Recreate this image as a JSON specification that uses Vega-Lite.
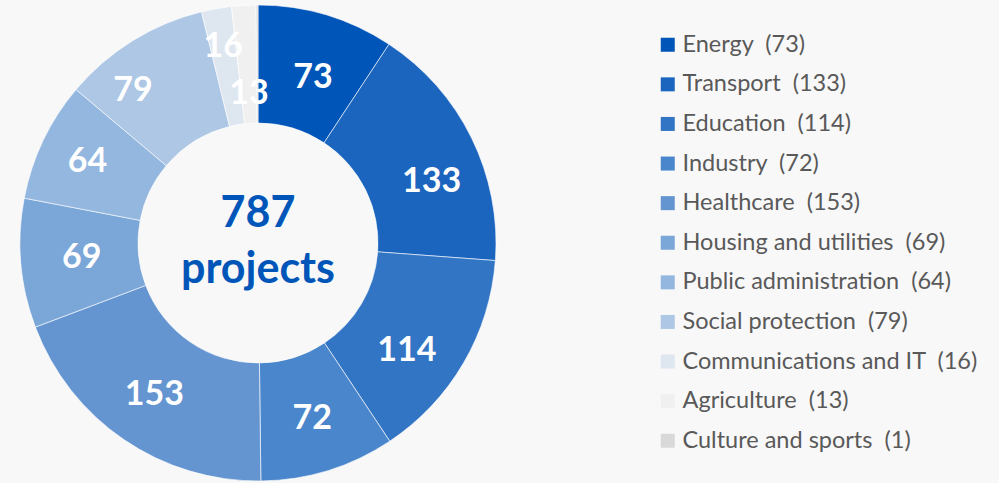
{
  "$schema": "https://vega.github.io/schema/vega-lite/v6.json",
  "width": 516,
  "height": 486,
  "autosize": {"type": "none"},
  "padding": {"left": 0, "top": 0, "right": 483, "bottom": 0},
  "background": "#f8f8f8",
  "config": {"view": {"stroke": null}, "font": "Lato"},
  "layer": [
    {
      "data": {
        "values": [
          {"sector": "Energy", "projects": 73, "rank": 1},
          {"sector": "Transport", "projects": 133, "rank": 2},
          {"sector": "Education", "projects": 114, "rank": 3},
          {"sector": "Industry", "projects": 72, "rank": 4},
          {"sector": "Healthcare", "projects": 153, "rank": 5},
          {"sector": "Housing and utilities", "projects": 69, "rank": 6},
          {"sector": "Public administration", "projects": 64, "rank": 7},
          {"sector": "Social protection", "projects": 79, "rank": 8},
          {"sector": "Communications and IT", "projects": 16, "rank": 9},
          {"sector": "Agriculture", "projects": 13, "rank": 10},
          {"sector": "Culture and sports", "projects": 1, "rank": 11}
        ]
      },
      "transform": [
        {"calculate": "datum.sector + '\u00a0 (' + datum.projects + ')'", "as": "legendLabel"}
      ],
      "layer": [
        {
          "mark": {"type": "arc", "innerRadius": 120, "outerRadius": 238, "stroke": "#ffffff", "strokeWidth": 0.6},
          "encoding": {
            "theta": {"field": "projects", "type": "quantitative", "stack": true},
            "order": {"field": "rank", "type": "quantitative"},
            "color": {
              "field": "legendLabel",
              "type": "nominal",
              "sort": null,
              "scale": {
                "domain": ["Energy\u00a0 (73)", "Transport\u00a0 (133)", "Education\u00a0 (114)", "Industry\u00a0 (72)", "Healthcare\u00a0 (153)", "Housing and utilities\u00a0 (69)", "Public administration\u00a0 (64)", "Social protection\u00a0 (79)", "Communications and IT\u00a0 (16)", "Agriculture\u00a0 (13)", "Culture and sports\u00a0 (1)"],
                "range": ["#0055b8", "#1b65bf", "#3375c5", "#4a86cb", "#6495d1", "#7ba6d8", "#94b7df", "#adc7e5", "#dee6f0", "#f0f0f0", "#d9d9d9"]
              },
              "legend": {
                "orient": "none",
                "legendX": 656,
                "legendY": 33,
                "title": null,
                "symbolType": "square",
                "symbolSize": 196,
                "symbolStrokeWidth": 0,
                "labelFont": "Lato",
                "labelFontSize": 23.5,
                "labelColor": "#595959",
                "rowPadding": 14.6,
                "labelOffset": 3,
                "labelLimit": 400
              }
            }
          }
        },
        {
          "mark": {
            "type": "text",
            "radius": {"expr": "datum.sector === 'Communications and IT' ? 199 : datum.sector === 'Agriculture' ? 149 : datum.sector === 'Social protection' ? 197 : datum.sector === 'Energy' ? 174 : datum.sector === 'Housing and utilities' ? 177 : datum.sector === 'Public administration' ? 189 : 184"},
            "thetaOffset": {"expr": "datum.sector === 'Transport' ? 0.12 : datum.sector === 'Education' ? 0.1 : datum.sector === 'Social protection' ? -0.133 : datum.sector === 'Energy' ? 0.03 : 0"},
            "font": "Lato",
            "fontWeight": "bold",
            "fontSize": 34,
            "fill": "#ffffff",
            "align": "center",
            "baseline": "middle"
          },
          "encoding": {
            "theta": {"field": "projects", "type": "quantitative", "stack": true},
            "order": {"field": "rank", "type": "quantitative"},
            "text": {"condition": {"test": "datum.sector === 'Culture and sports'", "value": ""}, "field": "projects", "type": "quantitative"}
          }
        }
      ]
    },
    {
      "data": {"values": [{"total": "787", "unit": "projects"}]},
      "mark": {"type": "text", "font": "Lato", "fontWeight": "bold", "fontSize": 43, "fill": "#0055b8", "align": "center", "baseline": "middle", "dy": -29},
      "encoding": {"text": {"field": "total"}}
    },
    {
      "data": {"values": [{"total": "787", "unit": "projects"}]},
      "mark": {"type": "text", "font": "Lato", "fontWeight": "bold", "fontSize": 43, "fill": "#0055b8", "align": "center", "baseline": "middle", "dy": 27},
      "encoding": {"text": {"field": "unit"}}
    }
  ]
}
